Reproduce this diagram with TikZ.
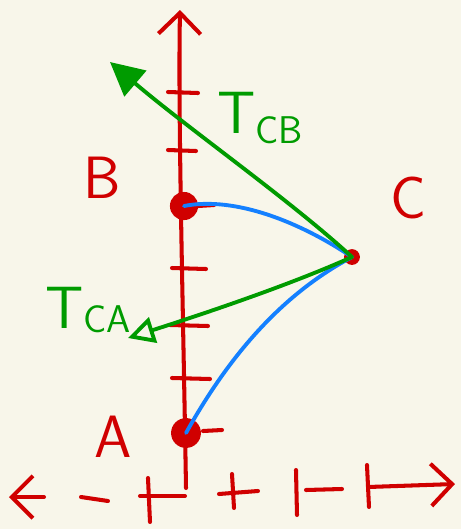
\documentclass[tikz,border=0pt]{standalone}
\usetikzlibrary{arrows.meta}
\definecolor{paper}{RGB}{248,246,234}
\definecolor{penred}{RGB}{208,0,0}
\definecolor{pengreen}{RGB}{0,155,0}
\definecolor{penblue}{RGB}{20,128,255}
\begin{document}
\begin{tikzpicture}[x=0.02cm,y=-0.02cm,line cap=round,line join=round]
	
	% Define styles
	\tikzstyle{axis} = [draw=penred, line width=2.3pt]
	\tikzstyle{point node} = [circle, fill=penred, inner sep=0pt]
	\tikzstyle{letter} = [text=penred, font=\sffamily\fontsize{34}{34}\selectfont]
	\tikzstyle{force} = [draw=pengreen, line width=2.2pt]
	\tikzstyle{path line} = [draw=penblue, line width=2.2pt]
	\tikzstyle{barb} = [-{Straight Barb[length=12pt,width=24pt,line width=2.3pt]}]
	
	% Paper
	\fill[paper] (0,0) rectangle (461,529);
	\useasboundingbox (0,0) rectangle (461,529);
	
	% Vertical axis
	\coordinate (vbot) at (186,488);
	\coordinate (vtop) at (180,10);
	\path[axis, barb] (vbot) .. controls (183,300) and (178,120) .. (vtop);
	\foreach \y/\a/\b in {92/168/198, 150/168/196, 268/172/206, 325/170/208, 378/172/210}
	\path[axis] (\a,\y) -- (\b,\y+1);
	\path[axis] (198,206) -- (214,205);
	\path[axis] (203,431) -- (222,430);
	
	% Horizontal axis
	\coordinate (hl) at (44,497);
	\coordinate (hlend) at (9,497);
	\coordinate (hr) at (368,487);
	\coordinate (hrend) at (455,484);
	\path[axis, barb] (hl) -- (hlend);
	\path[axis, barb] (hr) -- (hrend);
	\path[axis] (81,497) -- (108,501);
	\path[axis] (140,496) -- (185,496);
	\path[axis] (148,478) -- (150,522);
	\path[axis] (219,494) -- (258,491);
	\path[axis] (232,474) -- (234,508);
	\path[axis] (296,470) -- (297,515);
	\path[axis] (306,490) -- (342,489);
	\path[axis] (367,465) -- (369,507);
	
	% Points
	\node[point node, minimum size=16pt] (B) at (184,206) {};
	\node[point node, minimum size=17pt] (A) at (186,433) {};
	\node[point node, minimum size=9pt] (C) at (352,257) {};
	
	% Labels
	\node[letter] (labB) at (102,178) {B};
	\node[letter] (labC) at (408,198) {C};
	\node[letter] (labA) at (113,437) {A};
	
	% Paths to C
	\path[path line] (B.center) .. controls (235,196) and (300,222) .. (C.center);
	\path[path line] (A.center) .. controls (235,345) and (290,290) .. (C.center);
	
	% Tensions
	\coordinate (tipB) at (110,62);
	\coordinate (tipA) at (128,338);
	\path[force, -{Triangle[length=19pt,width=19pt]}] (C.center) .. controls (290,200) and (190,130) .. (tipB);
	\path[force, -{Triangle[open,length=15pt,width=15pt]}] (C.center) .. controls (290,285) and (200,315) .. (tipA);
	\node[text=pengreen, font=\sffamily] (labCB) at (260,118)
	{\fontsize{34}{34}\selectfont T\fontsize{22}{22}\selectfont\raisebox{-6pt}{CB}};
	\node[text=pengreen, font=\sffamily] (labCA) at (88,310)
	{\fontsize{34}{34}\selectfont T\fontsize{22}{22}\selectfont\raisebox{-2pt}{CA}};
	
\end{tikzpicture}
\end{document}
